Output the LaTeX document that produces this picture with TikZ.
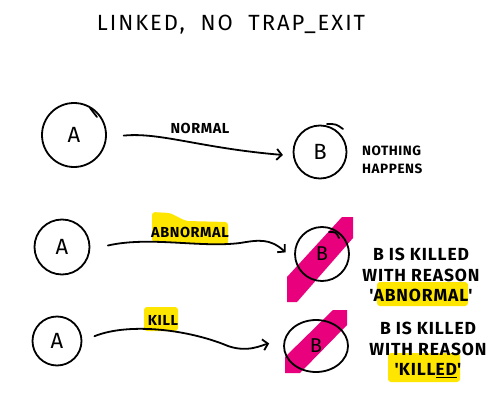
\documentclass[tikz,border=0pt]{standalone}
\usepackage{fontspec}
\setmainfont{Fira Sans}
\usetikzlibrary{arrows.meta,shapes.geometric}
\definecolor{hlpink}{HTML}{E8007D}
\definecolor{hlyellow}{HTML}{FFE600}
\newcommand{\sq}{\textquotesingle}
\begin{document}
\begin{tikzpicture}[x=1pt,y=-1pt,
  proc/.style={draw, circle, line width=1.8pt, inner sep=0pt, font=\fontsize{22}{22}\selectfont},
  msg/.style={line width=1.8pt, line cap=round, -{Straight Barb[length=5pt,width=11pt,line width=1.8pt]}},
  lbl/.style={font=\fontsize{14.5}{14.5}\selectfont\bfseries\addfontfeature{LetterSpace=4}, inner sep=0pt},
  note/.style={font=\fontsize{17.5}{20.5}\selectfont\bfseries\addfontfeature{LetterSpace=5}, inner sep=0pt, align=center},
  hl/.style={fill=hlyellow, rounded corners=3pt},
  band/.style={fill=hlpink}]
\useasboundingbox (0,0) rectangle (500,401);
\fill[white] (0,0) rectangle (500,401);

% title
\node[font=\fontsize{22}{22}\selectfont\addfontfeature{LetterSpace=9}, inner sep=0pt] (title) at (231,25) {LINKED,\ \ NO\ \ TRAP\_EXIT};

% ---------- row 1 ----------
\node[proc, minimum size=64pt] (A1) at (74,135) {A};
\node[proc, minimum size=53pt] (B1) at (320,152) {B};
\draw[line width=1.8pt, line cap=round] (327,124) .. controls (336,124) .. (343,129);
\draw[line width=1.8pt, line cap=round] (90,108) -- (97,117);
\draw[msg, shorten <=17pt, shorten >=10pt] (A1.-4) .. controls (160,132) and (200,148) .. (B1.188);
\node[lbl] (l1) at (200,128) {NORMAL};
\node[note, font=\fontsize{13.5}{18}\selectfont\bfseries\addfontfeature{LetterSpace=4}, align=left, anchor=west] (n1) at (362,160) {NOTHING\\HAPPENS};

% ---------- row 2 ----------
\fill[band] (342,217) -- (353,217) -- (353,238) -- (297,302) -- (287,302) -- (287,277) -- cycle;
\node[proc, minimum size=55pt] (A2) at (62,247) {A};
\node[proc, minimum size=54pt, font=\fontsize{20}{20}\selectfont] (B2) at (322,254) {B};
\draw[line width=1.8pt, line cap=round] (329,232) .. controls (336,232) .. (339,238);
\fill[hl] (152,212) -- (170,213) -- (186,221) -- (228,222) -- (228,245) -- (152,242) -- cycle;
\draw[msg, shorten <=18pt, shorten >=13pt] (A2.-5) .. controls (150,236) and (200,248) .. (240,243) .. controls (258,240) and (270,238) .. (B2.195);
\node[lbl] (l2) at (190,232) {ABNORMAL};
\fill[hl] (377,282) rectangle (468,306);
\node[note] (n2) at (421,275) {B IS KILLED\\WITH REASON\\\sq ABNORMAL\sq};

% ---------- row 3 ----------
\fill[band] (333,310) -- (347,310) -- (347,325) -- (300,373) -- (285,373) -- (285,357) -- cycle;
\node[proc, minimum size=49pt] (A3) at (57,341) {A};
\node[draw, ellipse, line width=1.8pt, inner sep=0pt, minimum width=64pt, minimum height=52pt, font=\fontsize{20}{20}\selectfont] (B3) at (316,346) {B};
\fill[hl] (144,307) rectangle (178,331);
\draw[msg, shorten <=13pt, shorten >=15pt] (A3.0) .. controls (130,322) and (190,330) .. (228,346) .. controls (248,353) and (262,345) .. (B3.170);
\node[lbl] (l3) at (163,320) {KILL};
\fill[hl] (388,353) rectangle (460,382);
\node[note] (n3) at (428,350) {B IS KILLED\\WITH REASON\\\sq KILL\underline{ED}\sq};
\end{tikzpicture}
\end{document}
